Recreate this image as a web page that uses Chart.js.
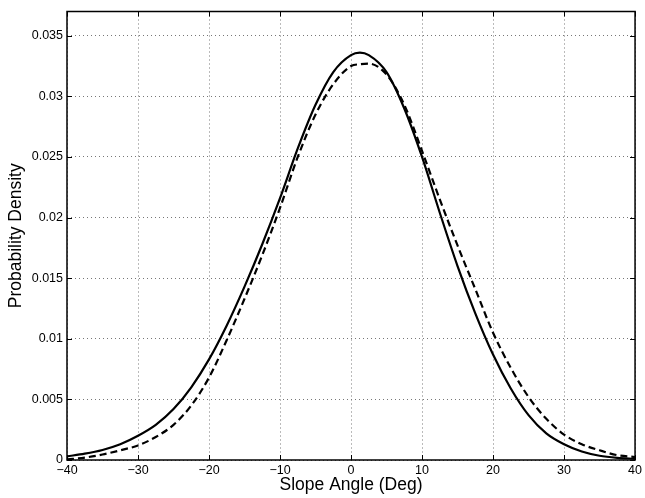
<!DOCTYPE html>
<html>
<head>
<meta charset="utf-8">
<script src="https://cdn.jsdelivr.net/npm/chart.js@4/dist/chart.umd.min.js"></script>
<style>
  html, body { margin: 0; padding: 0; background: #fff; }
  #wrap { width: 645px; height: 498px; }
</style>
</head>
<body>
<div id="wrap"><canvas id="chart"></canvas></div>
<script>
// slope angle samples (deg)
const angles = [-40, -37.5, -35, -32.5, -30, -27.5, -25, -22.5, -20, -17.5, -15, -12.5, -10, -7.5, -5, -2.5,
  0, 1.25, 2.5, 5, 7.5, 10, 12.5, 15, 17.5, 20, 22.5, 25, 27.5, 30, 32.5, 35, 37.5, 40];
// solid curve
const solidDensity = [0.0003, 0.00052, 0.00083, 0.0013, 0.0020, 0.0029, 0.0042, 0.0060, 0.0083, 0.0111, 0.0143, 0.0178, 0.0216, 0.0257, 0.0293, 0.0320,
  0.0334, 0.0336, 0.0334, 0.0320, 0.0290, 0.0250, 0.0204, 0.0160, 0.0121, 0.0087, 0.0059, 0.0037, 0.0022, 0.0013, 0.0007, 0.00035, 0.00018, 0.0001];
// dashed curve
const dashedDensity = [0.00005, 0.0002, 0.00045, 0.0008, 0.0012, 0.0019, 0.0029, 0.0045, 0.0068, 0.0099, 0.0133, 0.0169, 0.0208, 0.0250, 0.0285, 0.0310,
  0.0325, 0.03265, 0.0327, 0.0318, 0.0293, 0.0255, 0.0215, 0.0177, 0.0141, 0.0105, 0.0076, 0.0052, 0.0034, 0.0021, 0.0013, 0.0008, 0.0004, 0.00025];

const xTicks = [-40, -30, -20, -10, 0, 10, 20, 30, 40];
const yTicks = [0, 0.005, 0.01, 0.015, 0.02, 0.025, 0.03, 0.035];

const font = "'Liberation Sans', Arial, Helvetica, sans-serif";

const toPoints = ys => angles.map((a, i) => ({ x: a, y: ys[i] }));

// box round the plot + inward tick marks, matlab style
const boxPlugin = {
  id: 'box',
  afterDraw(chart) {
    const { ctx, chartArea: a, scales } = chart;
    ctx.save();
    ctx.strokeStyle = '#000';
    ctx.lineWidth = 1.5;
    ctx.strokeRect(a.left, a.top, a.right - a.left, a.bottom - a.top);
    ctx.lineWidth = 1;
    ctx.beginPath();
    xTicks.forEach(v => {
      const px = Math.round(scales.x.getPixelForValue(v)) + 0.5;
      ctx.moveTo(px, a.bottom); ctx.lineTo(px, a.bottom - 5);
      ctx.moveTo(px, a.top); ctx.lineTo(px, a.top + 5);
    });
    yTicks.forEach(v => {
      const py = Math.round(scales.y.getPixelForValue(v)) + 0.5;
      ctx.moveTo(a.left, py); ctx.lineTo(a.left + 5, py);
      ctx.moveTo(a.right, py); ctx.lineTo(a.right - 5, py);
    });
    ctx.stroke();
    ctx.restore();
  }
};

new Chart(document.getElementById('chart'), {
  type: 'line',
  data: {
    datasets: [
      {
        data: toPoints(solidDensity),
        borderColor: '#000',
        borderWidth: 2.2,
        pointRadius: 0,
        cubicInterpolationMode: 'monotone',
        fill: false,
      },
      {
        data: toPoints(dashedDensity),
        borderColor: '#000',
        borderWidth: 2.2,
        borderDash: [7, 4],
        pointRadius: 0,
        cubicInterpolationMode: 'monotone',
        fill: false,
      },
    ],
  },
  options: {
    responsive: true,
    maintainAspectRatio: false,
    animation: false,
    layout: { padding: { top: 9, right: 6, left: 0, bottom: 0 } },
    plugins: { legend: { display: false }, tooltip: { enabled: false } },
    scales: {
      x: {
        type: 'linear',
        min: -40,
        max: 40,
        afterBuildTicks: s => { s.ticks = xTicks.map(v => ({ value: v })); },
        afterFit: s => { s.height = 38; },
        grid: { color: '#777', lineWidth: 1, drawTicks: false },
        border: { display: false, dash: [1, 3] },
        ticks: {
          color: '#000',
          padding: 3,
          maxRotation: 0,
          font: { family: font, size: 12.5 },
          callback: v => String(v).replace('-', '\u2212'),
        },
        title: {
          display: true,
          text: 'Slope Angle (Deg)',
          color: '#000',
          font: { family: font, size: 17.5 },
          padding: { top: 0, bottom: 2 },
        },
      },
      y: {
        min: 0,
        max: 0.037,
        afterBuildTicks: s => { s.ticks = yTicks.map(v => ({ value: v })); },
        afterFit: s => { s.width = 67; },
        grid: { color: '#777', lineWidth: 1, drawTicks: false },
        border: { display: false, dash: [1, 3] },
        ticks: {
          color: '#000',
          padding: 4,
          font: { family: font, size: 12.5 },
          callback: v => String(parseFloat(v.toFixed(3))),
        },
        title: {
          display: true,
          text: 'Probability Density',
          color: '#000',
          font: { family: font, size: 17.5 },
          padding: { top: 6, bottom: 0 },
        },
      },
    },
  },
  plugins: [boxPlugin],
});
</script>
</body>
</html>
